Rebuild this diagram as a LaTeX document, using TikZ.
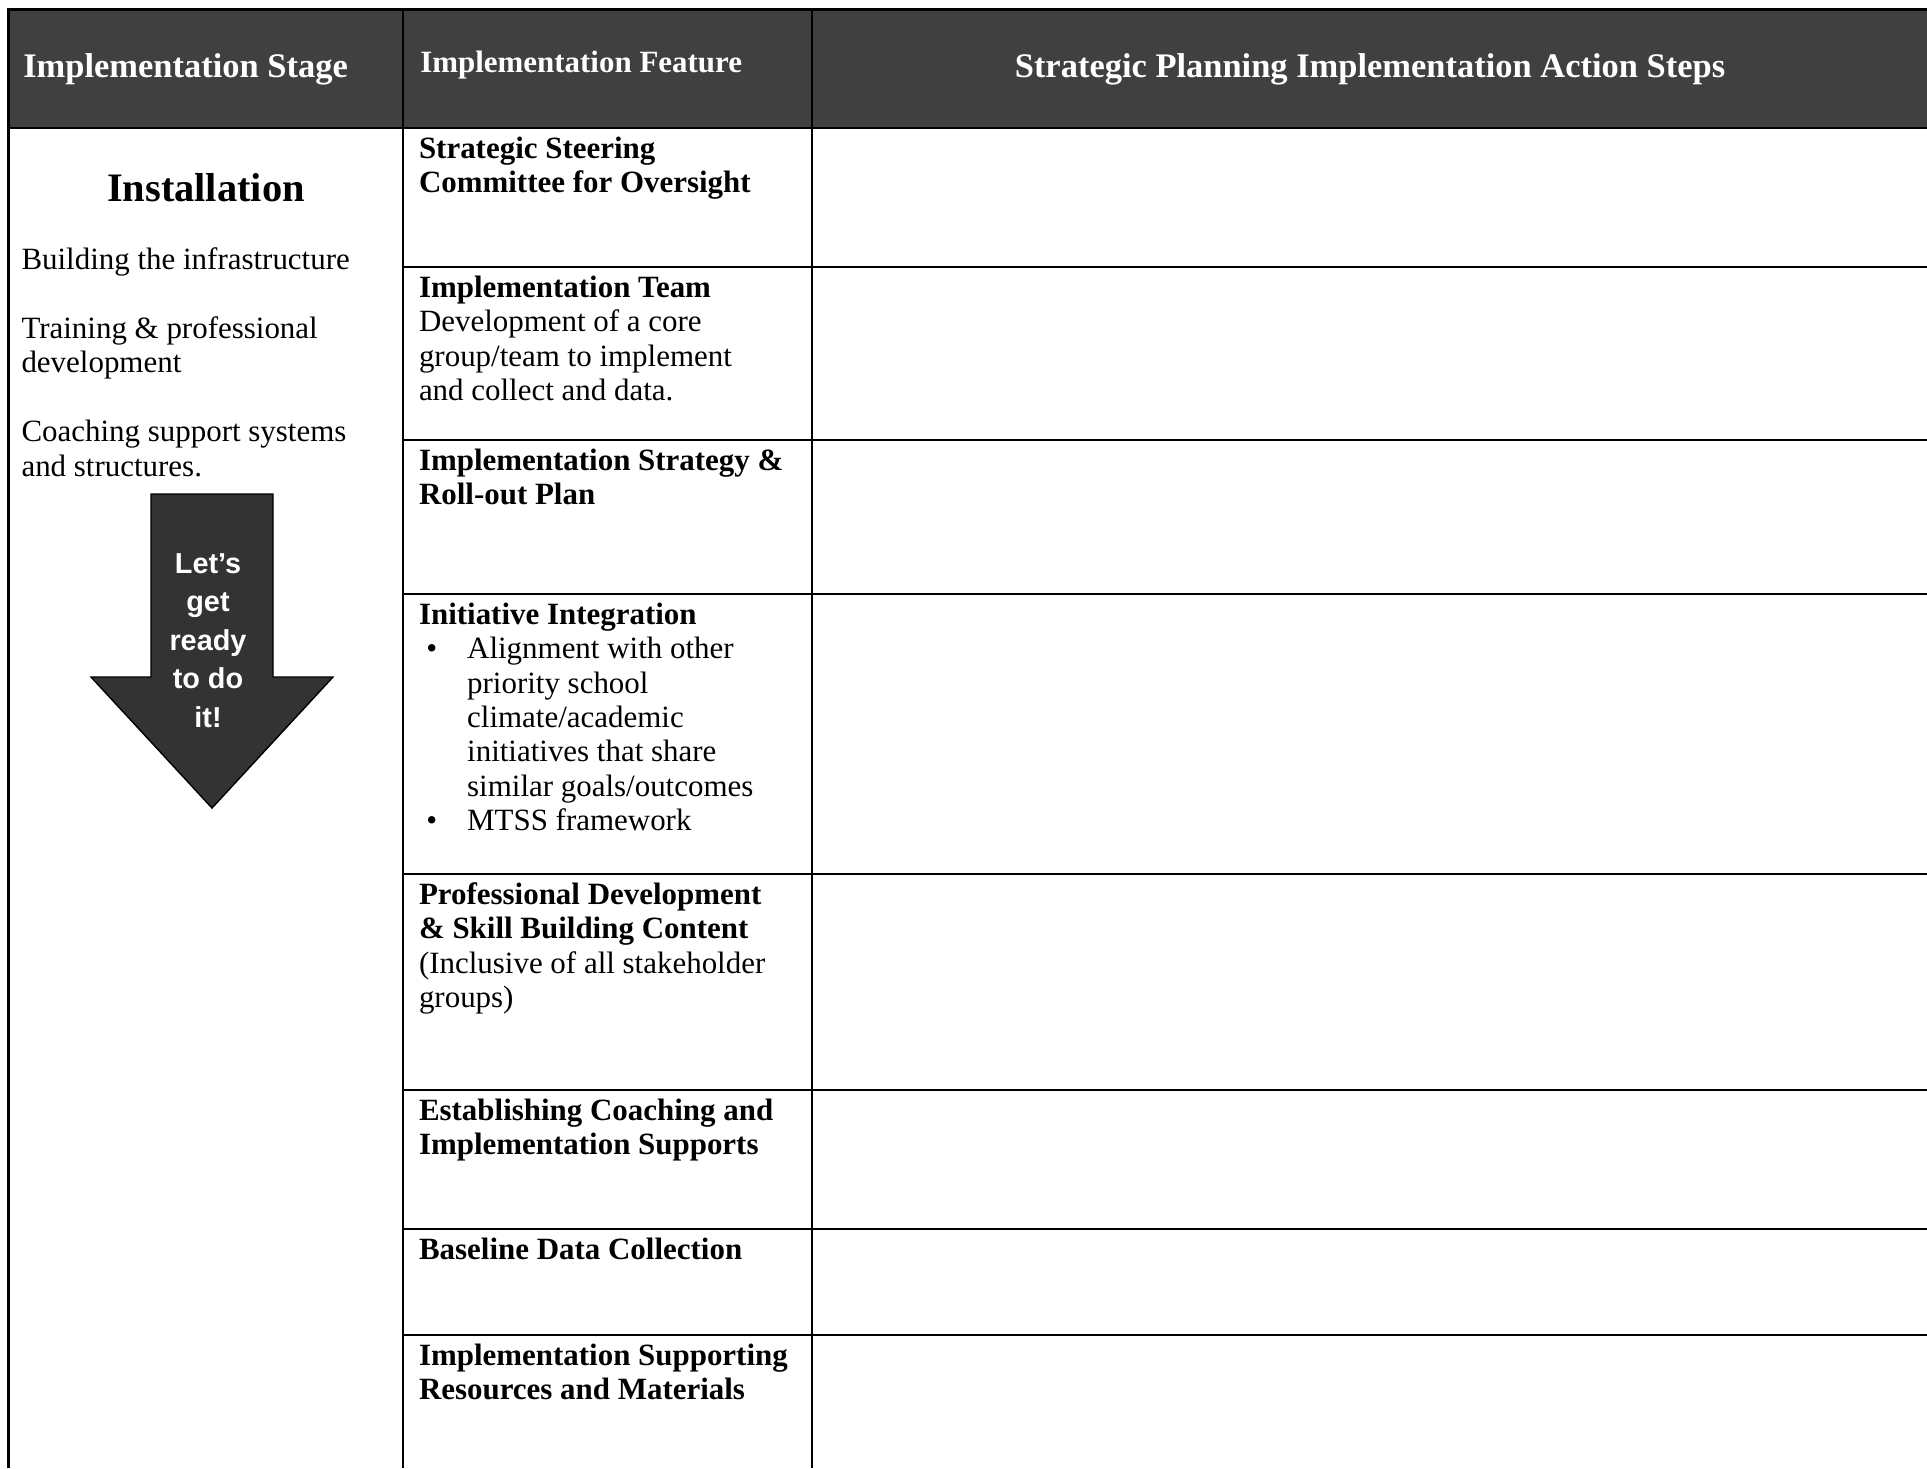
\documentclass[tikz,border=0pt]{standalone}
\usepackage{fontspec}
\setmainfont{Liberation Serif}
\newfontfamily\arrowfont{Liberation Sans}
\usepackage{tikz}
\usetikzlibrary{positioning}

\definecolor{headgray}{HTML}{404040}
\definecolor{arrowgray}{HTML}{333333}

\begin{document}
\begin{tikzpicture}[x=0.01cm,y=-0.01cm,line width=0.75pt,
        body/.style={font=\fontsize{8.8}{9.8}\selectfont},
        cell/.style={body,anchor=north west,align=left,inner xsep=4.55pt,inner ysep=1.7pt,outer sep=0pt},
        head/.style={inner sep=0pt,text=white,font=\bfseries\fontsize{9.8}{11}\selectfont}]
    \useasboundingbox (0,0) rectangle (1927,1468);

    % header band and grid
    \fill[headgray] (8.5,9.5) rectangle (1927,128);
    \draw (8.5,1468) -- (8.5,9.5) -- (1927,9.5);
    \draw (8.5,128) -- (1927,128);
    \draw (403,9.5) -- (403,1468);
    \draw (812,9.5) -- (812,1468);
    \foreach \y in {267,440,594,874,1090,1229,1335}
        \draw (403,\y) -- (1927,\y);

    % headers
    \node[head,anchor=base west] (stagehead) at (22,77) {Implementation Stage};
    \node[head,anchor=base west,font=\bfseries\fontsize{8.8}{10}\selectfont] (featurehead) at (419,72) {Implementation Feature};
    \node[head,anchor=base] (stepshead) at (1370,77.5) {Strategic Planning Implementation Action Steps};

    % stage column
    \node[anchor=base,inner sep=0pt,font=\bfseries\fontsize{11.5}{13}\selectfont] (install) at (206,201) {Installation};
    \node[cell,inner xsep=3.7pt,inner ysep=1.4pt] (build) at (8.5,240) {\strut Building the infrastructure};
    \node[cell,inner xsep=3.7pt,inner ysep=1.4pt] (train) at (8.5,309) {\strut Training \& professional\\development};
    \node[cell,inner xsep=3.7pt,inner ysep=1.4pt] (coach) at (8.5,412.5) {\strut Coaching support systems\\and structures.};

    \filldraw[fill=arrowgray,draw=black,line width=0.4pt]
        (151,494) -- (273,494) -- (273,677) -- (333,677) -- (212,808)
        -- (91,677) -- (151,677) -- cycle;
    \node[anchor=north,align=center,inner sep=0pt,text=white,
          font=\arrowfont\bfseries\fontsize{8.2}{10.95}\selectfont] (ready) at (208,545)
        {\strut Let’s\\get\\ready\\to do\\it!};

    % feature column
    \node[cell] (steer) at (403,128) {\strut\textbf{Strategic Steering}\\\textbf{Committee for Oversight}};
    \node[cell] (team) at (403,267) {\strut\textbf{Implementation Team}\\Development of a core\\group/team to implement\\and collect and data.};
    \node[cell] (rollout) at (403,440) {\strut\textbf{Implementation Strategy \&}\\\textbf{Roll-out Plan}};
    \node[cell] (integr) at (403,594) {\strut\textbf{Initiative Integration}\\
        \hspace*{2.1pt}\makebox[11.6pt][l]{\textbullet}Alignment with other\\
        \hspace*{13.7pt}priority school\\
        \hspace*{13.7pt}climate/academic\\
        \hspace*{13.7pt}initiatives that share\\
        \hspace*{13.7pt}similar goals/outcomes\\
        \hspace*{2.1pt}\makebox[11.6pt][l]{\textbullet}MTSS framework};
    \node[cell] (profdev) at (403,874) {\strut\textbf{Professional Development}\\\textbf{\& Skill Building Content}\\(Inclusive of all stakeholder\\groups)};
    \node[cell] (coaching) at (403,1090) {\strut\textbf{Establishing Coaching and}\\\textbf{Implementation Supports}};
    \node[cell] (baseline) at (403,1229) {\strut\textbf{Baseline Data Collection}};
    \node[cell] (resources) at (403,1335) {\strut\textbf{Implementation Supporting}\\\textbf{Resources and Materials}};
\end{tikzpicture}
\end{document}
